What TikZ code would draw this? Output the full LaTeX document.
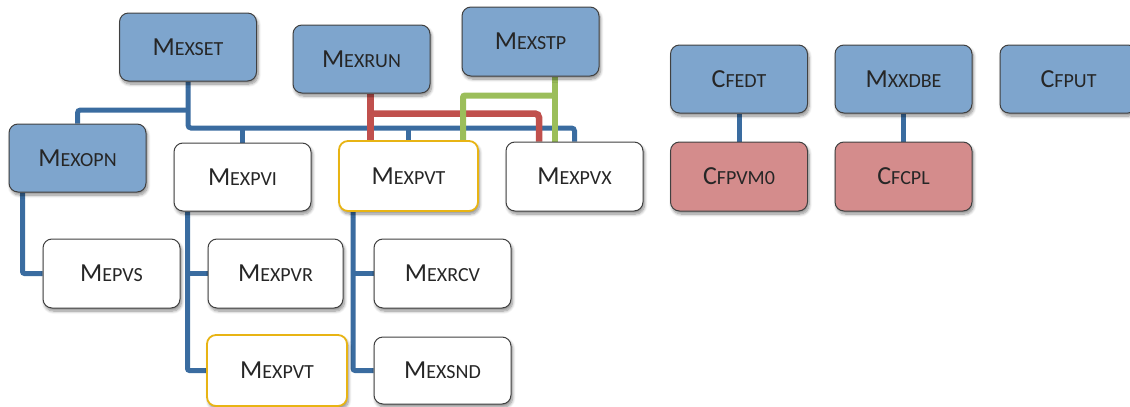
\documentclass[tikz,border=0pt]{standalone}
\usepackage{fontspec}
\setmainfont{Carlito}
\usetikzlibrary{shadows.blur,backgrounds}

\definecolor{boxblue}{RGB}{126,165,205}
\definecolor{boxred}{RGB}{212,140,140}
\definecolor{boxedge}{RGB}{64,64,64}
\definecolor{goldedge}{RGB}{232,180,20}
\definecolor{linkblue}{RGB}{58,108,160}
\definecolor{linkred}{RGB}{192,80,77}
\definecolor{linkgreen}{RGB}{155,190,90}
\definecolor{labelgray}{RGB}{38,38,38}

% small-caps style label: large initial, smaller capitals after it
\newcommand\capt[2]{{\fontsize{26}{26}\selectfont #1}{\fontsize{20}{20}\selectfont #2}}

\tikzset{
  x=1pt, y=-1pt,
  unit/.style={rectangle, rounded corners=9pt, draw=boxedge, line width=1pt,
    minimum width=137pt, minimum height=68pt, inner sep=0pt,
    text=labelgray,
    blur shadow={shadow xshift=1.5pt, shadow yshift=-3pt, shadow blur steps=8,
      shadow blur radius=3pt, shadow opacity=45}},
  bluebox/.style={unit, fill=boxblue},
  whitebox/.style={unit, fill=white},
  redbox/.style={unit, fill=boxred},
  goldbox/.style={unit, fill=white, draw=goldedge, line width=1.8pt},
  conn/.style={draw=linkblue, line width=5pt},
  redlink/.style={draw=linkred, line width=6.5pt},
  greenlink/.style={draw=linkgreen, line width=6pt},
}

\begin{document}
\begin{tikzpicture}
\useasboundingbox (0,0) rectangle (1130,407);
\clip (0,0) rectangle (1130,407);

% top level modules
\node[bluebox] (mexset) at (188,47) {\capt{M}{EXSET}};
\node[bluebox] (mexrun) at (361.5,59) {\capt{M}{EXRUN}};
\node[bluebox, minimum height=69pt] (mexstp) at (530.5,41.5) {\capt{M}{EXSTP}};

% second level
\node[bluebox] (mexopn) at (77.5,158) {\capt{M}{EXOPN}};
\node[whitebox] (mexpvi) at (242.5,177) {\capt{M}{EXPVI}};
\node[goldbox, minimum width=139pt, minimum height=70pt] (mexpvt) at (408.5,176) {\capt{M}{EXPVT}};
\node[whitebox, minimum height=69pt] (mexpvx) at (574.5,176.5) {\capt{M}{EXPVX}};

% third level
\node[whitebox, minimum height=69pt] (mepvs) at (111.5,273.5) {\capt{M}{EPVS}};
\node[whitebox, minimum width=135pt, minimum height=69pt] (mexpvr) at (275.5,273.5) {\capt{M}{EXPVR}};
\node[goldbox, minimum width=140pt, minimum height=71pt] (mexpvtb) at (277,370.5) {\capt{M}{EXPVT}};
\node[whitebox, minimum height=69pt] (mexrcv) at (442.5,273.5) {\capt{M}{EXRCV}};
\node[whitebox, minimum height=67pt] (mexsnd) at (442.5,370.5) {\capt{M}{EXSND}};

% separate groups on the right
\node[bluebox] (cfedt) at (739,79) {\capt{C}{FEDT}};
\node[bluebox] (mxxdbe) at (903.5,79) {\capt{M}{XXDBE}};
\node[bluebox] (cfput) at (1068.5,79) {\capt{C}{FPUT}};
\node[redbox, minimum height=69pt] (cfpvm) at (739,176.5) {\capt{C}{FPVM0}};
\node[redbox, minimum height=69pt] (cfcpl) at (903.5,176.5) {\capt{C}{FCPL}};

\begin{scope}[on background layer]
  \coordinate (busY) at (0,128);
  \coordinate (opnY) at (0,110);

  % hierarchy links
  \draw[conn, rounded corners=3pt] (mexset.south) |- (mexpvx.north |- busY) -- (mexpvx.north);
  \draw[conn, rounded corners=3pt] (mexset.south |- opnY) -| (mexopn.north);
  \draw[conn] (mexpvi.north |- busY) -- (mexpvi.north);
  \draw[conn] (mexpvt.north |- busY) -- (mexpvt.north);

  \draw[conn, rounded corners=2pt] ([xshift=14pt]mexopn.south west) |- (mepvs.west);

  \coordinate (pviX) at ([xshift=14pt]mexpvi.south west);
  \draw[conn, rounded corners=2pt] (pviX) |- (mexpvtb.west);
  \draw[conn] (mexpvr.west -| pviX) -- (mexpvr.west);

  \coordinate (pvtX) at ([xshift=15pt]mexpvt.south west);
  \draw[conn, rounded corners=2pt] (pvtX) |- (mexsnd.west);
  \draw[conn] (mexrcv.west -| pvtX) -- (mexrcv.west);

  \draw[conn] (cfedt.south) -- (cfpvm.north);
  \draw[conn] (mxxdbe.south) -- (cfcpl.north);

  % run links
  \coordinate (runA) at (370.5,113.5);
  \coordinate (runB) at (539,0);
  \draw[redlink] (mexrun.south -| runA) -- (mexpvt.north -| runA);
  \draw[redlink, rounded corners=4pt] (runA) -| (mexpvx.north -| runB);

  % stop links
  \coordinate (stpA) at (555,95.5);
  \coordinate (stpB) at (463,0);
  \draw[greenlink] (mexstp.south -| stpA) -- (mexpvx.north -| stpA);
  \draw[greenlink, rounded corners=2pt] (stpA) -| (mexpvt.north -| stpB);
\end{scope}
\end{tikzpicture}
\end{document}
